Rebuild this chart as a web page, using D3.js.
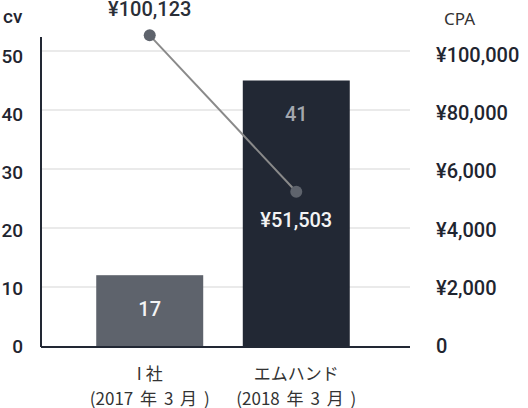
<!DOCTYPE html>
<html>
<head>
<meta charset="utf-8">
<script src="https://cdn.jsdelivr.net/npm/d3@7"></script>
<style>
  body { margin: 0; background: #fff; }
  svg { display: block; }
</style>
</head>
<body>
<svg></svg>
<script>
// CV bars + CPA line, two y axes

var width = 528;
var height = 408;

var categories = ["I 社", "エムハンド"];
var subLabels = ["(2017 年 3 月 )", "(2018 年 3 月 )"];
var cvValues = [12, 45];          // bar heights as drawn
var cvLabels = ["17", "41"];      // numbers printed in the bars
var cpaValues = [105300, 52300];  // line points as drawn
var cpaLabels = ["¥100,123", "¥51,503"];
var cvTicks = [0, 10, 20, 30, 40, 50];
var cpaTicks = [0, 20000, 40000, 60000, 80000, 100000];
var cpaTickLabels = ["0", "¥2,000", "¥4,000", "¥6,000", "¥80,000", "¥100,000"];

var plotLeft = 41, plotRight = 410, plotBottom = 346, plotTop = 51;

var svg = d3.select("svg")
            .attr("width", width)
            .attr("height", height);

var xScale = d3.scaleBand()
                  .domain(categories)
                  .range([38.5, 407.5])
                  .paddingInner(0.27)
                  .paddingOuter(0.394);

var yScale = d3.scaleLinear()
                  .domain([0, 50])
                  .range([plotBottom, plotTop]);

var yRight = d3.scaleLinear()
                  .domain([0, 100000])
                  .range([plotBottom, plotTop]);

// tick labels sit on a slightly tighter spacing than the gridlines
var yLabelScale = d3.scaleLinear().domain([0, 50]).range([plotBottom, 56]);
var yRightLabelScale = d3.scaleLinear().domain([0, 100000]).range([plotBottom, 55]);

var barColor = d3.scaleOrdinal().domain(categories).range(["#5e636c", "#222834"]);
var barTextColor = d3.scaleOrdinal().domain(categories).range(["#f4f4f4", "#a3a7ae"]);

// gridlines
svg.append("g")
    .selectAll("line")
    .data(cvTicks.slice(1))
    .enter()
    .append("line")
      .attr("x1", plotLeft)
      .attr("x2", plotRight)
      .attr("y1", d => yScale(d))
      .attr("y2", d => yScale(d))
      .attr("stroke", "#e3e3e3")
      .attr("stroke-width", 1.5);

// bars
svg.selectAll("rect.bar")
    .data(categories)
    .enter()
    .append("rect")
      .attr("class", "bar")
      .attr("x", d => xScale(d))
      .attr("y", (d, i) => yScale(cvValues[i]))
      .attr("width", xScale.bandwidth())
      .attr("height", (d, i) => plotBottom - yScale(cvValues[i]))
      .attr("fill", d => barColor(d));

svg.selectAll("text.barlabel")
    .data(categories)
    .enter()
    .append("text")
      .attr("class", "barlabel")
      .attr("x", d => xScale(d) + xScale.bandwidth() / 2)
      .attr("y", (d, i) => yScale(cvValues[i]) + 40.5)
      .attr("text-anchor", "middle")
      .style("font-family", "Roboto, sans-serif")
      .style("font-size", "20px")
      .style("font-weight", 500)
      .attr("fill", d => barTextColor(d))
      .text((d, i) => cvLabels[i]);

// axes
var yAxisLeft = d3.axisLeft(yLabelScale).tickValues(cvTicks).tickSize(0).tickPadding(0);
var gl = svg.append("g")
    .attr("transform", "translate(23,0)")
    .call(yAxisLeft);
gl.select(".domain").remove();
gl.selectAll("text")
    .style("font-family", "Roboto, sans-serif")
    .style("font-size", "19px")
    .style("font-weight", 500)
    .attr("fill", "#1f2530");

var yAxisRight = d3.axisRight(yRightLabelScale)
                    .tickValues(cpaTicks)
                    .tickFormat((d, i) => cpaTickLabels[i])
                    .tickSize(0).tickPadding(0);
var gr = svg.append("g")
    .attr("transform", "translate(436,0)")
    .call(yAxisRight);
gr.select(".domain").remove();
gr.selectAll("text")
    .style("font-family", "Roboto, sans-serif")
    .style("font-size", "20px")
    .style("font-weight", 500)
    .attr("fill", "#1f2530");

svg.append("line")
    .attr("x1", plotLeft).attr("x2", plotLeft)
    .attr("y1", 37).attr("y2", plotBottom + 1)
    .attr("stroke", "#222834").attr("stroke-width", 2);

svg.append("line")
    .attr("x1", plotLeft).attr("x2", plotRight)
    .attr("y1", plotBottom + 1).attr("y2", plotBottom + 1)
    .attr("stroke", "#222834").attr("stroke-width", 2);

// axis titles
svg.append("text")
    .attr("x", 3)
    .attr("y", 23)
    .style("font-family", "Roboto, sans-serif")
    .style("font-size", "19px")
    .style("font-weight", 500)
    .attr("fill", "#1f2530")
    .text("cv");

svg.append("text")
    .attr("x", 444)
    .attr("y", 25)
    .style("font-family", "'Noto Sans', sans-serif")
    .style("font-size", "17px")
    .attr("fill", "#333")
    .text("CPA");

// category labels
var cat = svg.selectAll("g.cat")
    .data(categories)
    .enter()
    .append("g")
      .attr("class", "cat")
      .attr("transform", d => "translate(" + (xScale(d) + xScale.bandwidth() / 2) + ",0)");

cat.append("text")
    .attr("y", 380)
    .attr("text-anchor", "middle")
    .style("font-family", "'Noto Sans CJK JP', sans-serif")
    .style("font-size", "17px")
    .attr("fill", "#333")
    .text(d => d);

cat.append("text")
    .attr("y", 404.5)
    .attr("text-anchor", "middle")
    .style("font-family", "'Noto Sans CJK JP', sans-serif")
    .style("font-size", "17px")
    .style("word-spacing", "3px")
    .attr("fill", "#333")
    .text((d, i) => subLabels[i]);

// CPA line
var cx = d => xScale(d) + xScale.bandwidth() / 2;

var line = d3.line()
    .x(d => cx(d))
    .y((d, i) => yRight(cpaValues[i]));

svg.append("path")
    .datum(categories)
    .attr("d", line)
    .attr("fill", "none")
    .attr("stroke", "#8a8a8a")
    .attr("stroke-width", 2);

svg.selectAll("circle")
    .data(categories)
    .enter()
    .append("circle")
      .attr("cx", d => cx(d))
      .attr("cy", (d, i) => yRight(cpaValues[i]))
      .attr("r", 6)
      .attr("fill", "#5e636c");

svg.selectAll("text.cpalabel")
    .data(categories)
    .enter()
    .append("text")
      .attr("class", "cpalabel")
      .attr("x", d => cx(d))
      .attr("y", (d, i) => yRight(cpaValues[i]) + (i === 0 ? -19 : 35))
      .attr("text-anchor", "middle")
      .style("font-family", "Roboto, sans-serif")
      .style("font-size", "20px")
      .style("font-weight", 500)
      .attr("fill", (d, i) => i === 0 ? "#2a2f38" : "#f4f4f4")
      .text((d, i) => cpaLabels[i]);
</script>
</body>
</html>
